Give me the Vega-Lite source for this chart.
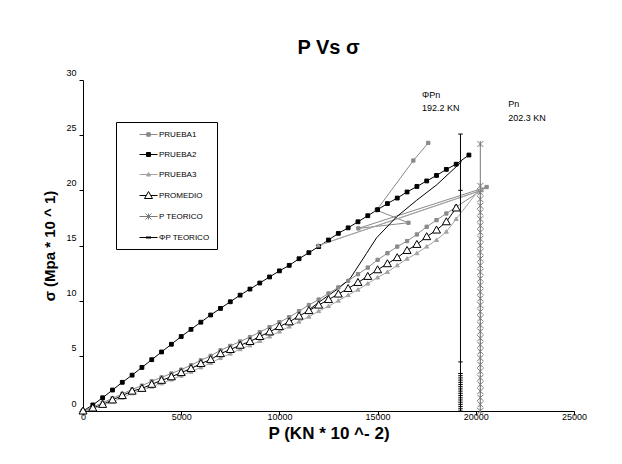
{
  "$schema": "https://vega.github.io/schema/vega-lite/v6.json",
  "autosize": {"type": "none"},
  "padding": {"left": 83, "top": 80, "right": 48, "bottom": 53},
  "width": 491,
  "height": 331,
  "background": "white",
  "config": {
    "font": "Liberation Sans",
    "view": {"stroke": null},
    "axis": {"grid": false, "domainColor": "#000", "tickColor": "#000", "labelColor": "#000", "titleColor": "#000", "labelFont": "Liberation Sans", "titleFont": "Liberation Sans"}
  },
  "title": {"text": "P Vs σ", "fontSize": 20, "fontWeight": "bold", "font": "Liberation Sans", "color": "#000", "offset": 10, "anchor": "middle"},
  "datasets": {
    "main": [
      {"s":"PRUEBA2","i":0,"x":0,"y":0},{"s":"PRUEBA2","i":1,"x":500,"y":0.55},{"s":"PRUEBA2","i":2,"x":1000,"y":1.2},{"s":"PRUEBA2","i":3,"x":1500,"y":1.9},{"s":"PRUEBA2","i":4,"x":2000,"y":2.6},{"s":"PRUEBA2","i":5,"x":2500,"y":3.25},{"s":"PRUEBA2","i":6,"x":3000,"y":3.95},{"s":"PRUEBA2","i":7,"x":3500,"y":4.65},{"s":"PRUEBA2","i":8,"x":4000,"y":5.35},{"s":"PRUEBA2","i":9,"x":4500,"y":6.05},{"s":"PRUEBA2","i":10,"x":5000,"y":6.75},{"s":"PRUEBA2","i":11,"x":5500,"y":7.4},{"s":"PRUEBA2","i":12,"x":6000,"y":8.05},{"s":"PRUEBA2","i":13,"x":6500,"y":8.7},{"s":"PRUEBA2","i":14,"x":7000,"y":9.3},{"s":"PRUEBA2","i":15,"x":7500,"y":9.9},{"s":"PRUEBA2","i":16,"x":8000,"y":10.5},{"s":"PRUEBA2","i":17,"x":8500,"y":11.05},{"s":"PRUEBA2","i":18,"x":9000,"y":11.6},{"s":"PRUEBA2","i":19,"x":9500,"y":12.15},{"s":"PRUEBA2","i":20,"x":10000,"y":12.7},{"s":"PRUEBA2","i":21,"x":10500,"y":13.2},{"s":"PRUEBA2","i":22,"x":11000,"y":13.8},{"s":"PRUEBA2","i":23,"x":11500,"y":14.35},{"s":"PRUEBA2","i":24,"x":12000,"y":14.9},{"s":"PRUEBA2","i":25,"x":12500,"y":15.5},{"s":"PRUEBA2","i":26,"x":13000,"y":16.1},{"s":"PRUEBA2","i":27,"x":13500,"y":16.6},{"s":"PRUEBA2","i":28,"x":14000,"y":17.15},{"s":"PRUEBA2","i":29,"x":14500,"y":17.7},{"s":"PRUEBA2","i":30,"x":15000,"y":18.25},{"s":"PRUEBA2","i":31,"x":15500,"y":18.8},{"s":"PRUEBA2","i":32,"x":16000,"y":19.3},{"s":"PRUEBA2","i":33,"x":16500,"y":19.85},{"s":"PRUEBA2","i":34,"x":17000,"y":20.35},{"s":"PRUEBA2","i":35,"x":17500,"y":20.85},{"s":"PRUEBA2","i":36,"x":18000,"y":21.35},{"s":"PRUEBA2","i":37,"x":18500,"y":21.9},{"s":"PRUEBA2","i":38,"x":19000,"y":22.37},{"s":"PRUEBA2","i":39,"x":19650,"y":23.2},

      {"s":"PROMEDIO","i":0,"x":0,"y":0},{"s":"PROMEDIO","i":1,"x":500,"y":0.27},{"s":"PROMEDIO","i":2,"x":1000,"y":0.6},{"s":"PROMEDIO","i":3,"x":1500,"y":1.0},{"s":"PROMEDIO","i":4,"x":2000,"y":1.4},{"s":"PROMEDIO","i":5,"x":2500,"y":1.8},{"s":"PROMEDIO","i":6,"x":3000,"y":2.05},{"s":"PROMEDIO","i":7,"x":3500,"y":2.42},{"s":"PROMEDIO","i":8,"x":4000,"y":2.78},{"s":"PROMEDIO","i":9,"x":4500,"y":3.1},{"s":"PROMEDIO","i":10,"x":5000,"y":3.48},{"s":"PROMEDIO","i":11,"x":5500,"y":3.85},{"s":"PROMEDIO","i":12,"x":6000,"y":4.3},{"s":"PROMEDIO","i":13,"x":6500,"y":4.66},{"s":"PROMEDIO","i":14,"x":7000,"y":5.2},{"s":"PROMEDIO","i":15,"x":7500,"y":5.57},{"s":"PROMEDIO","i":16,"x":8000,"y":5.96},{"s":"PROMEDIO","i":17,"x":8500,"y":6.3},{"s":"PROMEDIO","i":18,"x":9000,"y":6.75},{"s":"PROMEDIO","i":19,"x":9500,"y":7.17},{"s":"PROMEDIO","i":20,"x":10000,"y":7.65},{"s":"PROMEDIO","i":21,"x":10500,"y":8.08},{"s":"PROMEDIO","i":22,"x":11000,"y":8.6},{"s":"PROMEDIO","i":23,"x":11500,"y":9.1},{"s":"PROMEDIO","i":24,"x":12000,"y":9.6},{"s":"PROMEDIO","i":25,"x":12500,"y":10.1},{"s":"PROMEDIO","i":26,"x":13000,"y":10.6},{"s":"PROMEDIO","i":27,"x":13500,"y":11.1},{"s":"PROMEDIO","i":28,"x":14000,"y":11.65},{"s":"PROMEDIO","i":29,"x":14500,"y":12.2},{"s":"PROMEDIO","i":30,"x":15000,"y":12.8},{"s":"PROMEDIO","i":31,"x":15500,"y":13.35},{"s":"PROMEDIO","i":32,"x":16000,"y":13.9},{"s":"PROMEDIO","i":33,"x":16500,"y":14.55},{"s":"PROMEDIO","i":34,"x":17000,"y":15.1},{"s":"PROMEDIO","i":35,"x":17500,"y":15.8},{"s":"PROMEDIO","i":36,"x":18000,"y":16.4},{"s":"PROMEDIO","i":37,"x":18500,"y":17.15},{"s":"PROMEDIO","i":38,"x":19000,"y":18.4},

      {"s":"PRUEBA1","i":0,"x":0,"y":0},{"s":"PRUEBA1","i":1,"x":500,"y":0.35},{"s":"PRUEBA1","i":2,"x":1000,"y":0.75},{"s":"PRUEBA1","i":3,"x":1500,"y":1.15},{"s":"PRUEBA1","i":4,"x":2000,"y":1.55},{"s":"PRUEBA1","i":5,"x":2500,"y":1.95},{"s":"PRUEBA1","i":6,"x":3000,"y":2.3},{"s":"PRUEBA1","i":7,"x":3500,"y":2.7},{"s":"PRUEBA1","i":8,"x":4000,"y":3.05},{"s":"PRUEBA1","i":9,"x":4500,"y":3.4},{"s":"PRUEBA1","i":10,"x":5000,"y":3.75},{"s":"PRUEBA1","i":11,"x":5500,"y":4.15},{"s":"PRUEBA1","i":12,"x":6000,"y":4.6},{"s":"PRUEBA1","i":13,"x":6500,"y":5.0},{"s":"PRUEBA1","i":14,"x":7000,"y":5.5},{"s":"PRUEBA1","i":15,"x":7500,"y":5.9},{"s":"PRUEBA1","i":16,"x":8000,"y":6.3},{"s":"PRUEBA1","i":17,"x":8500,"y":6.7},{"s":"PRUEBA1","i":18,"x":9000,"y":7.15},{"s":"PRUEBA1","i":19,"x":9500,"y":7.6},{"s":"PRUEBA1","i":20,"x":10000,"y":8.05},{"s":"PRUEBA1","i":21,"x":10500,"y":8.5},{"s":"PRUEBA1","i":22,"x":11000,"y":9.05},{"s":"PRUEBA1","i":23,"x":11500,"y":9.6},{"s":"PRUEBA1","i":24,"x":12000,"y":10.1},{"s":"PRUEBA1","i":25,"x":12500,"y":10.65},{"s":"PRUEBA1","i":26,"x":13000,"y":11.2},{"s":"PRUEBA1","i":27,"x":13500,"y":11.8},{"s":"PRUEBA1","i":28,"x":14000,"y":12.4},{"s":"PRUEBA1","i":29,"x":14500,"y":13.0},{"s":"PRUEBA1","i":30,"x":15000,"y":13.7},{"s":"PRUEBA1","i":31,"x":15500,"y":14.3},{"s":"PRUEBA1","i":32,"x":16000,"y":14.9},{"s":"PRUEBA1","i":33,"x":16500,"y":15.4},{"s":"PRUEBA1","i":34,"x":17000,"y":16.0},{"s":"PRUEBA1","i":35,"x":17500,"y":16.7},{"s":"PRUEBA1","i":36,"x":18000,"y":17.3},{"s":"PRUEBA1","i":37,"x":18500,"y":17.9},{"s":"PRUEBA1","i":38,"x":19000,"y":18.5},{"s":"PRUEBA1","i":39,"x":20550,"y":20.3},{"s":"PRUEBA1","i":40,"x":14020,"y":16.55},{"s":"PRUEBA1","i":41,"x":16570,"y":17.06},{"s":"PRUEBA1","i":42,"x":14950,"y":18.2},{"s":"PRUEBA1","i":43,"x":16820,"y":22.7},{"s":"PRUEBA1","i":44,"x":17580,"y":24.3},

      {"s":"PRUEBA3","i":0,"x":0,"y":0},{"s":"PRUEBA3","i":1,"x":500,"y":0.2},{"s":"PRUEBA3","i":2,"x":1000,"y":0.5},{"s":"PRUEBA3","i":3,"x":1500,"y":0.85},{"s":"PRUEBA3","i":4,"x":2000,"y":1.2},{"s":"PRUEBA3","i":5,"x":2500,"y":1.6},{"s":"PRUEBA3","i":6,"x":3000,"y":1.9},{"s":"PRUEBA3","i":7,"x":3500,"y":2.2},{"s":"PRUEBA3","i":8,"x":4000,"y":2.5},{"s":"PRUEBA3","i":9,"x":4500,"y":2.85},{"s":"PRUEBA3","i":10,"x":5000,"y":3.2},{"s":"PRUEBA3","i":11,"x":5500,"y":3.55},{"s":"PRUEBA3","i":12,"x":6000,"y":3.95},{"s":"PRUEBA3","i":13,"x":6500,"y":4.35},{"s":"PRUEBA3","i":14,"x":7000,"y":4.8},{"s":"PRUEBA3","i":15,"x":7500,"y":5.2},{"s":"PRUEBA3","i":16,"x":8000,"y":5.6},{"s":"PRUEBA3","i":17,"x":8500,"y":5.95},{"s":"PRUEBA3","i":18,"x":9000,"y":6.35},{"s":"PRUEBA3","i":19,"x":9500,"y":6.75},{"s":"PRUEBA3","i":20,"x":10000,"y":7.2},{"s":"PRUEBA3","i":21,"x":10500,"y":7.65},{"s":"PRUEBA3","i":22,"x":11000,"y":8.1},{"s":"PRUEBA3","i":23,"x":11500,"y":8.55},{"s":"PRUEBA3","i":24,"x":12000,"y":9.05},{"s":"PRUEBA3","i":25,"x":12500,"y":9.5},{"s":"PRUEBA3","i":26,"x":13000,"y":10.0},{"s":"PRUEBA3","i":27,"x":13500,"y":10.5},{"s":"PRUEBA3","i":28,"x":14000,"y":11.0},{"s":"PRUEBA3","i":29,"x":14500,"y":11.55},{"s":"PRUEBA3","i":30,"x":15000,"y":12.1},{"s":"PRUEBA3","i":31,"x":15500,"y":12.6},{"s":"PRUEBA3","i":32,"x":16000,"y":13.2},{"s":"PRUEBA3","i":33,"x":16500,"y":13.8},{"s":"PRUEBA3","i":34,"x":17000,"y":14.3},{"s":"PRUEBA3","i":35,"x":17500,"y":14.9},{"s":"PRUEBA3","i":36,"x":18000,"y":15.5},{"s":"PRUEBA3","i":37,"x":18500,"y":16.25},{"s":"PRUEBA3","i":38,"x":19000,"y":17.4},{"s":"PRUEBA3","i":39,"x":20100,"y":19.9},{"s":"PRUEBA3","i":40,"x":11980,"y":15.0},{"s":"PRUEBA3","i":41,"x":20300,"y":20.0},

      {"s":"P TEORICO","i":0,"x":20230,"y":0},{"s":"P TEORICO","i":1,"x":20230,"y":0.6},{"s":"P TEORICO","i":2,"x":20230,"y":1.2},{"s":"P TEORICO","i":3,"x":20230,"y":1.8},{"s":"P TEORICO","i":4,"x":20230,"y":2.4},{"s":"P TEORICO","i":5,"x":20230,"y":3.0},{"s":"P TEORICO","i":6,"x":20230,"y":3.6},{"s":"P TEORICO","i":7,"x":20230,"y":4.2},{"s":"P TEORICO","i":8,"x":20230,"y":4.8},{"s":"P TEORICO","i":9,"x":20230,"y":5.4},{"s":"P TEORICO","i":10,"x":20230,"y":6.0},{"s":"P TEORICO","i":11,"x":20230,"y":6.6},{"s":"P TEORICO","i":12,"x":20230,"y":7.2},{"s":"P TEORICO","i":13,"x":20230,"y":7.8},{"s":"P TEORICO","i":14,"x":20230,"y":8.4},{"s":"P TEORICO","i":15,"x":20230,"y":9.0},{"s":"P TEORICO","i":16,"x":20230,"y":9.6},{"s":"P TEORICO","i":17,"x":20230,"y":10.2},{"s":"P TEORICO","i":18,"x":20230,"y":10.8},{"s":"P TEORICO","i":19,"x":20230,"y":11.4},{"s":"P TEORICO","i":20,"x":20230,"y":12.0},{"s":"P TEORICO","i":21,"x":20230,"y":12.6},{"s":"P TEORICO","i":22,"x":20230,"y":13.2},{"s":"P TEORICO","i":23,"x":20230,"y":13.8},{"s":"P TEORICO","i":24,"x":20230,"y":14.4},{"s":"P TEORICO","i":25,"x":20230,"y":15.0},{"s":"P TEORICO","i":26,"x":20230,"y":15.6},{"s":"P TEORICO","i":27,"x":20230,"y":16.2},{"s":"P TEORICO","i":28,"x":20230,"y":16.8},{"s":"P TEORICO","i":29,"x":20230,"y":17.4},{"s":"P TEORICO","i":30,"x":20230,"y":18.0},{"s":"P TEORICO","i":31,"x":20230,"y":18.6},{"s":"P TEORICO","i":32,"x":20230,"y":19.2},{"s":"P TEORICO","i":33,"x":20230,"y":19.8},{"s":"P TEORICO","i":34,"x":20230,"y":20.4},{"s":"P TEORICO","i":35,"x":20230,"y":24.2},

      {"s":"ΦP TEORICO","i":0,"x":19220,"y":0},{"s":"ΦP TEORICO","i":1,"x":19220,"y":0.2},{"s":"ΦP TEORICO","i":2,"x":19220,"y":0.4},{"s":"ΦP TEORICO","i":3,"x":19220,"y":0.6},{"s":"ΦP TEORICO","i":4,"x":19220,"y":0.8},{"s":"ΦP TEORICO","i":5,"x":19220,"y":1.0},{"s":"ΦP TEORICO","i":6,"x":19220,"y":1.2},{"s":"ΦP TEORICO","i":7,"x":19220,"y":1.4},{"s":"ΦP TEORICO","i":8,"x":19220,"y":1.6},{"s":"ΦP TEORICO","i":9,"x":19220,"y":1.8},{"s":"ΦP TEORICO","i":10,"x":19220,"y":2.0},{"s":"ΦP TEORICO","i":11,"x":19220,"y":2.2},{"s":"ΦP TEORICO","i":12,"x":19220,"y":2.4},{"s":"ΦP TEORICO","i":13,"x":19220,"y":2.6},{"s":"ΦP TEORICO","i":14,"x":19220,"y":2.8},{"s":"ΦP TEORICO","i":15,"x":19220,"y":3.0},{"s":"ΦP TEORICO","i":16,"x":19220,"y":3.2},{"s":"ΦP TEORICO","i":17,"x":19220,"y":3.4},{"s":"ΦP TEORICO","i":18,"x":19220,"y":4.45},{"s":"ΦP TEORICO","i":19,"x":19220,"y":20.0},{"s":"ΦP TEORICO","i":20,"x":19220,"y":25.1}
    ],
    "curve": [
      {"i":0,"x":11300,"y":8.9},{"i":1,"x":12200,"y":10.1},{"i":2,"x":13000,"y":11.1},{"i":3,"x":13600,"y":12.0},{"i":4,"x":14440,"y":14.3},{"i":5,"x":14950,"y":15.7},{"i":6,"x":15970,"y":17.6},{"i":7,"x":16990,"y":19.1},{"i":8,"x":18010,"y":20.5},{"i":9,"x":19280,"y":22.6}
    ],
    "notes": [
      {"x":17260,"y":28.6,"t":"ΦPn"},{"x":17260,"y":27.5,"t":"192.2 KN"},{"x":21650,"y":27.8,"t":"Pn"},{"x":21650,"y":26.6,"t":"202.3 KN"}
    ]
  },
  "layer": [
    {
      "data": {"name": "main"},
      "mark": {"type": "line", "strokeWidth": 1, "clip": false},
      "encoding": {
        "x": {"field": "x", "type": "quantitative", "scale": {"domain": [0, 25000], "nice": false}, "axis": {"title": "P (KN * 10 ^- 2)", "titleFontSize": 17, "titleFontWeight": "bold", "titlePadding": 4, "values": [0, 5000, 10000, 15000, 20000, 25000], "format": "d", "labelFontSize": 9, "tickSize": 4, "labelPadding": -3, "labelFlush": false, "domainWidth": 1}},
        "y": {"field": "y", "type": "quantitative", "scale": {"domain": [0, 30], "nice": false}, "axis": {"title": "σ (Mpa * 10 ^ 1)", "titleFontSize": 15, "titleFontWeight": "bold", "titleX": -26, "values": [0, 5, 10, 15, 20, 25, 30], "labelFontSize": 9, "tickSize": 4, "labelPadding": 3, "labelOffset": -8, "labelFlush": false, "domainWidth": 1}},
        "stroke": {"field": "s", "type": "nominal", "scale": {"domain": ["PRUEBA1", "PRUEBA2", "PRUEBA3", "PROMEDIO", "P TEORICO", "ΦP TEORICO"], "range": ["#8a8a8a", "#000000", "#a3a3a3", "#000000", "#7a7a7a", "#000000"]},
          "legend": {"title": null, "orient": "none", "legendX": 33, "legendY": 42, "strokeColor": "#000", "fillColor": "#fff", "padding": 7, "symbolSize": 100, "rowPadding": 10, "labelOffset": 25, "labelFontSize": 8, "labelFont": "Liberation Sans", "labelColor": "#000", "symbolStrokeWidth": 1}},
        "order": {"field": "i", "type": "quantitative"}
      }
    },
    {
      "data": {"name": "curve"},
      "mark": {"type": "line", "strokeWidth": 1, "color": "#000"},
      "encoding": {
        "x": {"field": "x", "type": "quantitative"},
        "y": {"field": "y", "type": "quantitative"},
        "order": {"field": "i", "type": "quantitative"}
      }
    },
    {
      "data": {"name": "main"},
      "transform": [{"filter": "datum.s === 'PRUEBA1'"}],
      "mark": {"type": "point", "shape": "M-0.33,-0.33H0.33V0.33H-0.33Z", "size": 100, "fill": "#8a8a8a", "stroke": "#8a8a8a", "strokeWidth": 1, "opacity": 1, "clip": false},
      "encoding": {"x": {"field": "x", "type": "quantitative"}, "y": {"field": "y", "type": "quantitative"}}
    },
    {
      "data": {"name": "main"},
      "transform": [{"filter": "datum.s === 'PRUEBA2'"}],
      "mark": {"type": "point", "shape": "M-0.38,-0.38H0.38V0.38H-0.38Z", "size": 100, "fill": "#000000", "stroke": "#000000", "strokeWidth": 1, "opacity": 1, "clip": false},
      "encoding": {"x": {"field": "x", "type": "quantitative"}, "y": {"field": "y", "type": "quantitative"}}
    },
    {
      "data": {"name": "main"},
      "transform": [{"filter": "datum.s === 'PRUEBA3'"}],
      "mark": {"type": "point", "shape": "M0,-0.4L0.4,0.3H-0.4Z", "size": 100, "fill": "#a3a3a3", "stroke": "#a3a3a3", "strokeWidth": 1, "opacity": 1, "clip": false},
      "encoding": {"x": {"field": "x", "type": "quantitative"}, "y": {"field": "y", "type": "quantitative"}}
    },
    {
      "data": {"name": "main"},
      "transform": [{"filter": "datum.s === 'PROMEDIO'"}],
      "mark": {"type": "point", "shape": "M0,-0.8L0.8,0.6H-0.8Z", "size": 100, "fill": "#ffffff", "stroke": "#000000", "strokeWidth": 1, "opacity": 1, "clip": false},
      "encoding": {"x": {"field": "x", "type": "quantitative"}, "y": {"field": "y", "type": "quantitative"}}
    },
    {
      "data": {"name": "main"},
      "transform": [{"filter": "datum.s === 'P TEORICO'"}],
      "mark": {"type": "point", "shape": "M-0.6,-0.6L0.6,0.6M-0.6,0.6L0.6,-0.6M0,-0.6V0.6", "size": 100, "fill": "transparent", "stroke": "#7a7a7a", "strokeWidth": 1, "opacity": 1, "clip": false},
      "encoding": {"x": {"field": "x", "type": "quantitative"}, "y": {"field": "y", "type": "quantitative"}}
    },
    {
      "data": {"name": "main"},
      "transform": [{"filter": "datum.s === 'ΦP TEORICO'"}],
      "mark": {"type": "point", "shape": "M-0.45,0H0.45", "size": 100, "fill": "#000000", "stroke": "#000000", "strokeWidth": 1, "opacity": 1, "clip": false},
      "encoding": {"x": {"field": "x", "type": "quantitative"}, "y": {"field": "y", "type": "quantitative"}}
    },
    {
      "data": {"name": "main"},
      "transform": [{"filter": "datum.i < 0"}],
      "mark": {"type": "point", "size": 100, "strokeWidth": 1, "opacity": 1},
      "encoding": {
        "x": {"field": "x", "type": "quantitative"},
        "y": {"field": "y", "type": "quantitative"},
        "shape": {"field": "s", "type": "nominal", "scale": {"domain": ["PRUEBA1", "PRUEBA2", "PRUEBA3", "PROMEDIO", "P TEORICO", "ΦP TEORICO"], "range": ["M2.2,0H5.8M3.65,-0.35H4.35V0.35H3.65Z", "M2.2,0H5.8M3.6,-0.4H4.4V0.4H3.6Z", "M2.2,0H5.8M4,-0.4L4.4,0.3H3.6Z", "M2.2,0H3.54M4.46,0H5.8M4,-0.8L4.8,0.6H3.2Z", "M2.2,0H5.8M3.4,-0.6L4.6,0.6M3.4,0.6L4.6,-0.6M4,-0.6V0.6", "M2.2,0H5.8M3.5,-0.1H4.5V0.1H3.5Z"]},
          "legend": {"title": null, "orient": "none", "legendX": 33, "legendY": 42, "strokeColor": "#000", "fillColor": "#fff", "padding": 7, "symbolSize": 100, "rowPadding": 10, "labelOffset": 25, "labelFontSize": 8, "labelFont": "Liberation Sans", "labelColor": "#000", "symbolStrokeWidth": 1}},
        "fill": {"field": "s", "type": "nominal", "scale": {"domain": ["PRUEBA1", "PRUEBA2", "PRUEBA3", "PROMEDIO", "P TEORICO", "ΦP TEORICO"], "range": ["#8a8a8a", "#000000", "#a3a3a3", "#ffffff", "transparent", "#000000"]},
          "legend": {"title": null, "orient": "none", "legendX": 33, "legendY": 42, "strokeColor": "#000", "fillColor": "#fff", "padding": 7, "symbolSize": 100, "rowPadding": 10, "labelOffset": 25, "labelFontSize": 8, "labelFont": "Liberation Sans", "labelColor": "#000", "symbolStrokeWidth": 1}},
        "stroke": {"field": "s", "type": "nominal", "scale": {"domain": ["PRUEBA1", "PRUEBA2", "PRUEBA3", "PROMEDIO", "P TEORICO", "ΦP TEORICO"], "range": ["#8a8a8a", "#000000", "#a3a3a3", "#000000", "#7a7a7a", "#000000"]},
          "legend": {"title": null, "orient": "none", "legendX": 33, "legendY": 42, "strokeColor": "#000", "fillColor": "#fff", "padding": 7, "symbolSize": 100, "rowPadding": 10, "labelOffset": 25, "labelFontSize": 8, "labelFont": "Liberation Sans", "labelColor": "#000", "symbolStrokeWidth": 1}}
      }
    },
    {
      "data": {"name": "notes"},
      "mark": {"type": "text", "align": "left", "baseline": "middle", "fontSize": 9, "font": "Liberation Sans", "color": "#000"},
      "encoding": {
        "x": {"field": "x", "type": "quantitative"},
        "y": {"field": "y", "type": "quantitative"},
        "text": {"field": "t"}
      }
    }
  ]
}
